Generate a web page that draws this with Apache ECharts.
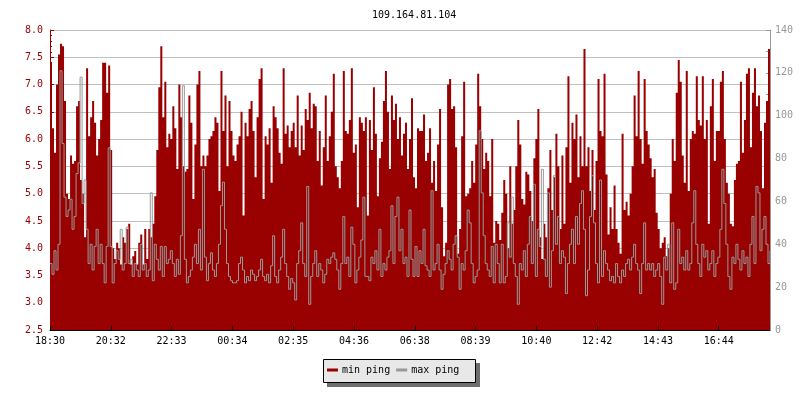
<!DOCTYPE html>
<html>
<head>
<meta charset="utf-8">
<script src="https://cdn.jsdelivr.net/npm/echarts@6/dist/echarts.min.js"></script>
<style>html,body{margin:0;padding:0;background:#fff}#c{width:800px;height:400px}</style>
</head>
<body>
<div id="c"></div>
<script>
// time tick labels (one every ~121 minutes from 18:30)
const timeLabels = ['18:30','20:32','22:33','00:34','02:35','04:36','06:38','08:39','10:40','12:42','14:43','16:44'];
const leftTicks = [2.5, 8.0];
const rightTicks = [0, 140];

// min ping (ms, left axis), one sample every 4 minutes
const minPing = [
 7.4,6.2,5.75,7.0,7.55,7.75,7.7,6.7,5.0,4.9,5.7,5.55,5.6,6.6,6.7,5.25,5.0,4.2,7.3,6.05,
 6.4,6.7,6.3,5.7,6.0,6.35,7.4,7.4,6.85,7.35,5.8,4.0,3.8,4.1,4.0,3.7,4.2,4.1,4.35,4.45,
 3.7,3.85,3.95,3.7,4.1,4.25,3.7,4.35,3.8,4.35,4.2,4.45,4.95,5.8,6.95,7.7,6.4,7.05,5.85,6.1,
 6.0,6.6,6.2,5.45,7.0,6.4,5.5,5.4,5.45,6.8,6.3,4.9,5.9,7.0,7.25,5.5,5.7,5.5,5.7,6.0,
 6.05,6.15,6.4,6.3,5.05,7.25,6.15,6.8,5.5,6.7,6.15,5.7,5.6,5.9,6.05,6.5,4.6,6.3,6.05,6.55,
 6.7,6.15,5.3,6.4,7.1,7.3,4.9,6.05,5.9,6.2,5.2,6.6,6.4,6.2,5.75,5.55,7.3,6.1,6.25,5.85,
 6.15,6.3,5.85,6.8,5.7,6.25,5.8,6.55,6.35,6.85,6.2,6.65,6.6,5.6,6.15,5.15,5.85,6.8,5.6,6.05,
 6.5,7.2,5.5,5.3,5.1,5.6,7.25,6.15,6.1,6.35,7.3,5.75,5.9,4.75,6.4,6.3,6.15,6.4,4.6,6.35,
 5.8,6.95,6.1,4.95,5.65,5.95,6.7,7.25,6.5,5.45,6.8,6.35,6.65,6.0,6.4,5.7,6.1,6.3,5.45,6.0,
 6.75,5.3,5.1,6.2,6.15,6.15,6.45,5.6,5.75,6.2,5.2,5.6,5.05,5.9,6.55,4.75,3.85,4.1,7.0,7.1,
 6.55,6.6,5.85,3.9,4.35,6.05,7.05,4.95,5.0,5.1,5.6,5.2,5.9,7.2,6.6,6.0,5.45,5.75,5.6,4.95,
 6.0,4.1,4.5,4.45,4.15,4.65,5.25,5.0,4.0,5.5,4.45,4.7,5.5,6.35,5.9,4.9,4.8,5.4,5.35,5.05,
 4.5,5.65,6.0,6.55,4.2,3.8,4.45,4.2,5.1,5.8,4.7,5.3,6.1,5.5,4.35,5.7,4.45,5.85,7.15,5.2,
 6.3,6.0,6.45,5.3,6.05,5.5,7.65,5.5,5.85,5.05,5.8,4.7,5.6,7.1,6.15,6.05,7.2,5.35,4.25,4.75,
 4.35,5.15,4.35,4.1,3.9,6.1,4.7,4.85,4.6,5.0,5.5,6.8,6.05,7.25,6.0,5.55,7.1,6.15,5.9,5.65,
 5.3,5.45,4.65,4.35,4.0,4.1,4.2,3.85,4.0,5.0,6.0,5.6,6.85,7.45,7.05,5.7,5.2,7.25,5.05,6.0,
 6.15,6.1,7.15,6.35,6.25,7.15,6.0,6.35,4.45,6.6,7.1,5.6,6.15,6.15,7.05,7.25,6.0,5.2,5.0,4.45,
 4.4,5.25,5.55,5.6,7.05,5.75,6.35,7.2,7.3,5.85,6.85,7.3,6.6,6.8,6.15,5.1,6.3,6.7,7.65,6.6
];

// max ping (ms, right axis), same samples
const maxPing = [
 31,26,37,28,40,121,87,62,53,56,61,47,53,73,78,118,59,70,47,31,
 40,28,39,47,31,40,31,22,39,85,39,22,31,37,33,47,28,31,48,31,
 33,25,31,28,25,40,28,31,25,28,64,23,40,33,28,39,25,39,31,33,
 37,31,25,33,26,44,114,33,22,25,28,34,40,31,47,28,75,34,23,31,
 36,28,25,31,40,58,69,47,31,25,23,22,22,23,31,34,28,22,25,23,
 28,26,23,25,28,33,25,23,26,22,30,44,25,22,28,34,47,31,25,19,
 24,22,14,31,37,50,31,25,67,12,25,31,37,25,31,28,22,26,33,31,
 34,36,33,28,19,31,53,31,34,25,48,40,22,28,34,42,62,25,25,23,
 34,31,37,28,47,25,31,28,34,37,58,31,53,62,37,47,31,34,25,56,
 33,25,39,25,37,31,47,30,28,25,65,28,31,40,28,19,26,31,37,33,
 28,40,44,34,19,31,28,37,56,50,31,22,25,28,93,64,44,31,28,25,
 39,22,40,31,22,40,22,25,50,34,62,31,25,12,31,28,37,25,40,53,
 31,68,25,47,39,75,33,25,64,20,37,72,40,53,31,37,34,17,31,40,
 47,31,53,40,59,65,47,16,28,53,72,50,31,22,70,25,37,31,28,23,
 25,22,31,25,22,28,25,31,33,28,34,40,31,28,17,31,50,28,31,28,
 31,25,28,31,25,12,34,28,40,22,50,19,22,47,31,34,28,37,28,31,
 50,65,40,31,25,40,34,37,28,31,37,25,31,34,47,75,59,40,25,19,
 34,31,40,33,28,37,31,34,25,40,53,31,67,64,37,47,53,40,31,37
];

const STEP = 4;          // minutes per sample
const TICK = 121.25;     // minutes between time labels
const FONT = 'DejaVu Sans Mono';

const chart = echarts.init(document.getElementById('c'), null, {renderer: 'canvas'});
const minData = minPing.map((v, i) => [i * STEP, v]);
const maxData = maxPing.map((v, i) => [i * STEP, v]);

chart.setOption({
  animation: false,
  backgroundColor: '#ffffff',
  title: {
    text: '109.164.81.104',
    left: 367, top: 5,
    textStyle: {fontFamily: FONT, fontSize: 10, fontWeight: 'normal', color: '#000'}
  },
  grid: {left: 50, right: 30, top: 30, bottom: 70, containLabel: false},
  graphic: [
    {type: 'rect', z: 1, shape: {x: 327, y: 363, width: 153, height: 24}, style: {fill: '#6e6e6e'}},
    {type: 'rect', z: 2, shape: {x: 323.5, y: 359.5, width: 152, height: 23}, style: {fill: '#e8e8e8', stroke: '#000', lineWidth: 1}}
  ],
  legend: {
    z: 10,
    left: 327, top: 365,
    padding: 0,
    itemWidth: 11, itemHeight: 3, itemGap: 6,
    icon: 'rect',
    textStyle: {fontFamily: FONT, fontSize: 10, color: '#000', padding: [0,0,0,-1]},
    data: ['min ping', 'max ping']
  },
  xAxis: {
    type: 'value',
    z: 10,
    min: 0, max: (minPing.length - 1) * STEP,
    interval: TICK,
    axisLine: {lineStyle: {color: '#000', width: 1}},
    axisTick: {inside: true, length: 4, lineStyle: {color: '#000'}},
    splitLine: {show: false},
    axisLabel: {
      fontFamily: FONT, fontSize: 10, color: '#000', margin: 6,
      showMaxLabel: false,
      formatter: v => timeLabels[Math.round(v / TICK)] || ''
    }
  },
  yAxis: [
    {
      type: 'value', position: 'left',
      min: leftTicks[0], max: leftTicks[1], interval: 0.5,
      axisLine: {show: true, lineStyle: {color: '#990000'}},
      axisTick: {show: true, inside: true, length: 4, lineStyle: {color: '#990000'}},
      minorTick: {show: true, splitNumber: 5, length: 2, lineStyle: {color: '#990000'}},
      splitLine: {show: true, lineStyle: {color: '#c0c0c0', width: 1}},
      axisLabel: {fontFamily: FONT, fontSize: 10, color: '#990000', margin: 7, formatter: v => v.toFixed(1)}
    },
    {
      type: 'value', position: 'right',
      min: rightTicks[0], max: rightTicks[1], interval: 20,
      axisLine: {show: true, lineStyle: {color: '#999999'}},
      axisTick: {show: true, inside: true, length: 4, lineStyle: {color: '#999999'}},
      minorTick: {show: true, splitNumber: 2, length: 4, lineStyle: {color: '#999999'}},
      splitLine: {show: false},
      axisLabel: {fontFamily: FONT, fontSize: 10, color: '#999999', margin: 5}
    }
  ],
  series: [
    {
      name: 'min ping', type: 'line', yAxisIndex: 0,
      data: minData, step: 'end', showSymbol: false, symbol: 'none',
      color: '#990000',
      lineStyle: {color: '#990000', width: 0},
      areaStyle: {color: '#990000', opacity: 1, origin: 'start'},
      z: 2
    },
    {
      name: 'max ping', type: 'line', yAxisIndex: 1,
      data: maxData, step: 'end', showSymbol: false, symbol: 'none',
      color: '#999999',
      lineStyle: {color: '#999999', width: 1},
      z: 3
    }
  ]
});
</script>
</body>
</html>
